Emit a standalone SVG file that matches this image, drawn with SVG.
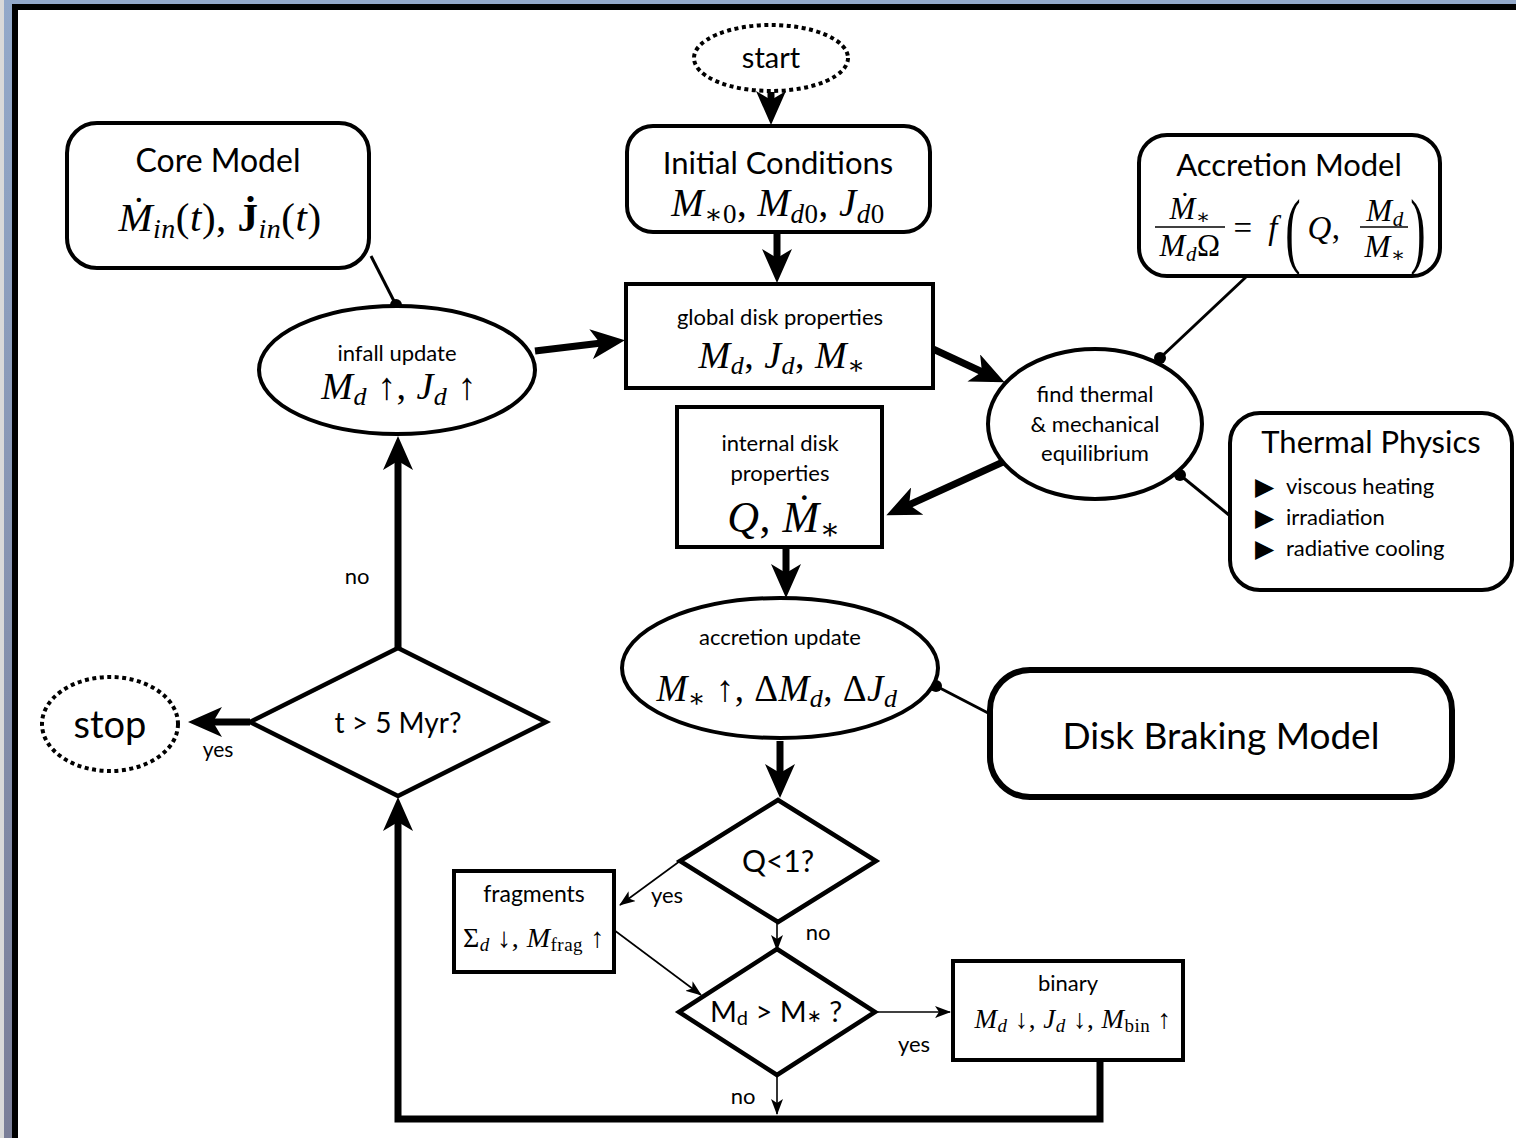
<svg xmlns="http://www.w3.org/2000/svg" width="1516" height="1138" viewBox="0 0 1516 1138">
  <defs>
    <linearGradient id="edge" x1="0" y1="0" x2="0" y2="1">
      <stop offset="0" stop-color="#93a9ca"/>
      <stop offset="1" stop-color="#7a7e98"/>
    </linearGradient>
    <marker id="big" markerUnits="userSpaceOnUse" markerWidth="34" markerHeight="30" viewBox="0 0 34 30" refX="19" refY="15" orient="auto">
      <path d="M0,0 L34,15 L0,30 L9,15 z" fill="#000"/>
    </marker>
    <marker id="small" markerUnits="userSpaceOnUse" markerWidth="16" markerHeight="12" viewBox="0 0 16 12" refX="15" refY="6" orient="auto">
      <path d="M0,0 L16,6 L0,12 L4,6 z" fill="#000"/>
    </marker>
    <style>
      .box { fill: #fff; stroke: #000; stroke-width: 4; }
      .dia { fill: #fff; stroke: #000; stroke-width: 4.5; }
      .dot { fill: #fff; stroke: #000; stroke-width: 4; stroke-dasharray: 4 3.5; }
      .t { font-family: Lato, "Open Sans", "DejaVu Sans", sans-serif; fill: #000; text-anchor: middle; }
      .m { font-family: "Liberation Serif", "DejaVu Serif", serif; fill: #000; text-anchor: middle; letter-spacing: 0.5px; }
      .i { font-style: italic; }
      .thick { fill: none; stroke: #000; stroke-width: 7; marker-end: url(#big); }
      .thin { fill: none; stroke: #000; stroke-width: 1.6; marker-end: url(#small); }
      .link { fill: none; stroke: #000; stroke-width: 3; }
      .pin { fill: #000; }
      .bar { stroke: #000; stroke-width: 1.6; }
    </style>
  </defs>

  <!-- window frame -->
  <rect x="0" y="0" width="1516" height="1138" fill="#fff"/>
  <rect x="0" y="0" width="5" height="1138" fill="#d9d9d9"/>
  <rect x="4" y="0" width="9" height="1138" fill="url(#edge)"/>
  <rect x="4" y="0" width="1512" height="4" fill="#93a9ca"/>
  <rect x="12" y="4" width="1504" height="6" fill="#000"/>
  <rect x="12" y="4" width="6" height="1134" fill="#000"/>

  <!-- connectors -->
  <g id="connectors">
    <line class="thick" x1="771" y1="92" x2="771" y2="110"/>
    <line class="thick" x1="777" y1="233" x2="777" y2="268"/>
    <line class="thick" x1="535" y1="351" x2="610" y2="342"/>
    <line class="thick" x1="933" y1="349" x2="991" y2="376"/>
    <line class="thick" x1="1003" y1="462" x2="900" y2="509"/>
    <line class="thick" x1="786" y1="548" x2="786" y2="583"/>
    <line class="thick" x1="780" y1="741" x2="780" y2="783"/>
    <line class="thick" x1="398" y1="648" x2="398" y2="451"/>
    <line class="thick" x1="250" y1="722" x2="203" y2="722"/>
    <path class="thick" d="M1100,1060 V1119 H398 V812"/>

    <line class="thin" x1="680" y1="861" x2="620" y2="905"/>
    <line class="thin" x1="777" y1="923" x2="777" y2="950"/>
    <line class="thin" x1="614" y1="930" x2="701" y2="995"/>
    <line class="thin" x1="875" y1="1012" x2="950" y2="1012"/>
    <line class="thin" x1="777" y1="1075" x2="777" y2="1114"/>

    <line class="link" x1="371" y1="256" x2="396" y2="305"/>
    <circle class="pin" cx="396" cy="305" r="6"/>
    <line class="link" x1="1246" y1="277" x2="1160" y2="358"/>
    <circle class="pin" cx="1160" cy="358" r="6"/>
    <line class="link" x1="1229" y1="515" x2="1180" y2="475"/>
    <circle class="pin" cx="1180" cy="475" r="6"/>
    <line class="link" x1="936" y1="686" x2="990" y2="714"/>
    <circle class="pin" cx="936" cy="686" r="6"/>

    <text class="t" x="667" y="903" font-size="22">yes</text>
    <text class="t" x="818" y="940" font-size="22">no</text>
    <text class="t" x="357" y="584" font-size="22">no</text>
    <text class="t" x="218" y="757" font-size="21">yes</text>
    <text class="t" x="914" y="1052" font-size="22">yes</text>
    <text class="t" x="743" y="1104" font-size="22">no</text>
  </g>

  <!-- start -->
  <g id="start">
    <ellipse class="dot" cx="771" cy="58" rx="77" ry="33"/>
    <text class="t" x="771" y="68" font-size="29">start</text>
  </g>

  <!-- initial conditions -->
  <g id="initial">
    <rect class="box" x="627" y="126" width="303" height="106" rx="26"/>
    <text class="t" x="778" y="174" font-size="31">Initial Conditions</text>
    <text class="m" x="778" y="216" font-size="39"><tspan class="i">M</tspan><tspan font-size="27" dy="7">∗0</tspan><tspan dy="-7">, </tspan><tspan class="i">M</tspan><tspan font-size="27" dy="7"><tspan class="i">d</tspan>0</tspan><tspan dy="-7">, </tspan><tspan class="i">J</tspan><tspan font-size="27" dy="7"><tspan class="i">d</tspan>0</tspan></text>
  </g>

  <!-- core model -->
  <g id="core">
    <rect class="box" x="67" y="123" width="302" height="145" rx="30"/>
    <text class="t" x="218" y="172" font-size="32">Core Model</text>
    <text class="m" x="220" y="231" font-size="41"><tspan class="i">Ṁ</tspan><tspan class="i" font-size="28" dy="7">in</tspan><tspan dy="-7">(</tspan><tspan class="i">t</tspan>), <tspan font-weight="bold">J̇</tspan><tspan class="i" font-size="28" dy="7">in</tspan><tspan dy="-7">(</tspan><tspan class="i">t</tspan>)</text>
  </g>

  <!-- global disk properties -->
  <g id="global">
    <rect class="box" x="626" y="284" width="307" height="104"/>
    <text class="t" x="780" y="325" font-size="22">global disk properties</text>
    <text class="m" x="782" y="368" font-size="38"><tspan class="i">M</tspan><tspan class="i" font-size="26" dy="6">d</tspan><tspan dy="-6">, </tspan><tspan class="i">J</tspan><tspan class="i" font-size="26" dy="6">d</tspan><tspan dy="-6">, </tspan><tspan class="i">M</tspan><tspan font-size="26" dy="6">∗</tspan></text>
  </g>

  <!-- infall update -->
  <g id="infall">
    <ellipse class="box" cx="397" cy="370" rx="138" ry="64"/>
    <text class="t" x="397" y="361" font-size="22">infall update</text>
    <text class="m" x="399" y="399" font-size="38"><tspan class="i">M</tspan><tspan class="i" font-size="26" dy="6">d</tspan><tspan dy="-6"> ↑, </tspan><tspan class="i">J</tspan><tspan class="i" font-size="26" dy="6">d</tspan><tspan dy="-6"> ↑</tspan></text>
  </g>

  <!-- accretion model -->
  <g id="accretion-model">
    <rect class="box" x="1139" y="135" width="301" height="141" rx="28"/>
    <text class="t" x="1289" y="176" font-size="31">Accretion Model</text>
    <text class="m" x="1190" y="219" font-size="31"><tspan class="i">Ṁ</tspan><tspan font-size="21" dy="5">∗</tspan></text>
    <line class="bar" x1="1155" y1="227" x2="1225" y2="227"/>
    <text class="m" x="1190" y="256" font-size="31"><tspan class="i">M</tspan><tspan class="i" font-size="21" dy="5">d</tspan><tspan dy="-5">Ω</tspan></text>
    <text class="m" x="1243" y="239" font-size="33">=</text>
    <text class="m i" x="1273" y="239" font-size="33">f</text>
    <text class="m" x="0" y="0" font-size="84" transform="translate(1293,258) scale(0.55,1)">(</text>
    <text class="m" x="1324" y="239" font-size="33"><tspan class="i">Q</tspan>,</text>
    <text class="m" x="1385" y="221" font-size="31"><tspan class="i">M</tspan><tspan class="i" font-size="21" dy="5">d</tspan></text>
    <line class="bar" x1="1360" y1="227" x2="1408" y2="227"/>
    <text class="m" x="1385" y="257" font-size="31"><tspan class="i">M</tspan><tspan font-size="21" dy="5">∗</tspan></text>
    <text class="m" x="0" y="0" font-size="84" transform="translate(1418,258) scale(0.55,1)">)</text>
  </g>

  <!-- find thermal & mechanical equilibrium -->
  <g id="equilibrium">
    <ellipse class="box" cx="1095" cy="424" rx="107" ry="75"/>
    <text class="t" x="1095" y="402" font-size="22">find thermal</text>
    <text class="t" x="1095" y="432" font-size="22">&amp; mechanical</text>
    <text class="t" x="1095" y="461" font-size="22">equilibrium</text>
  </g>

  <!-- thermal physics -->
  <g id="thermal-physics">
    <rect class="box" x="1230" y="413" width="282" height="177" rx="30"/>
    <text class="t" x="1371" y="453" font-size="31">Thermal Physics</text>
    <g class="t" font-size="22" style="text-anchor:start">
      <text x="1286" y="494">viscous heating</text>
      <text x="1286" y="525">irradiation</text>
      <text x="1286" y="556">radiative cooling</text>
    </g>
    <g class="t" font-size="25" style="text-anchor:start">
      <text x="1255" y="495">▶</text>
      <text x="1255" y="526">▶</text>
      <text x="1255" y="557">▶</text>
    </g>
  </g>

  <!-- internal disk properties -->
  <g id="internal">
    <rect class="box" x="677" y="407" width="205" height="140"/>
    <text class="t" x="780" y="451" font-size="22">internal disk</text>
    <text class="t" x="780" y="481" font-size="22">properties</text>
    <text class="m" x="784" y="532" font-size="44"><tspan class="i">Q</tspan>, <tspan class="i">Ṁ</tspan><tspan font-size="30" dy="7">∗</tspan></text>
  </g>

  <!-- accretion update -->
  <g id="accretion-update">
    <ellipse class="box" cx="780" cy="668" rx="158" ry="70"/>
    <text class="t" x="780" y="645" font-size="22">accretion update</text>
    <text class="m" x="777" y="701" font-size="37"><tspan class="i">M</tspan><tspan font-size="26" dy="6">∗</tspan><tspan dy="-6"> ↑, Δ</tspan><tspan class="i">M</tspan><tspan class="i" font-size="26" dy="6">d</tspan><tspan dy="-6">, Δ</tspan><tspan class="i">J</tspan><tspan class="i" font-size="26" dy="6">d</tspan></text>
  </g>

  <!-- disk braking model -->
  <g id="disk-braking">
    <rect x="990" y="670" width="462" height="127" rx="40" fill="#fff" stroke="#000" stroke-width="6"/>
    <text class="t" x="1221" y="749" font-size="37">Disk Braking Model</text>
  </g>

  <!-- Q < 1 decision -->
  <g id="q-test">
    <polygon class="dia" points="778,800 876,861 778,922 680,861"/>
    <text class="t" x="778" y="872" font-size="30">Q&lt;1?</text>
  </g>

  <!-- fragments -->
  <g id="fragments">
    <rect class="box" x="454" y="871" width="160" height="101"/>
    <text class="t" x="534" y="902" font-size="23">fragments</text>
    <text class="m" x="534" y="947" font-size="28">Σ<tspan class="i" font-size="19" dy="4">d</tspan><tspan dy="-4"> ↓, </tspan><tspan class="i">M</tspan><tspan font-size="19" dy="4">frag</tspan><tspan dy="-4"> ↑</tspan></text>
  </g>

  <!-- disk mass test -->
  <g id="mass-test">
    <polygon class="dia" points="777,949 875,1012 777,1075 679,1012"/>
    <text class="t" x="776" y="1022" font-size="29">M<tspan font-size="20" dy="3">d</tspan><tspan dy="-3"> &gt; M</tspan><tspan font-size="18">∗</tspan> ?</text>
  </g>

  <!-- binary -->
  <g id="binary">
    <rect class="box" x="953" y="961" width="230" height="99"/>
    <text class="t" x="1068" y="991" font-size="22">binary</text>
    <text class="m" x="1073" y="1028" font-size="27"><tspan class="i">M</tspan><tspan class="i" font-size="19" dy="4">d</tspan><tspan dy="-4"> ↓, </tspan><tspan class="i">J</tspan><tspan class="i" font-size="19" dy="4">d</tspan><tspan dy="-4"> ↓, </tspan><tspan class="i">M</tspan><tspan font-size="19" dy="4">bin</tspan><tspan dy="-4"> ↑</tspan></text>
  </g>

  <!-- time test -->
  <g id="time-test">
    <polygon class="dia" points="398,648 546,722 398,796 250,722"/>
    <text class="t" x="398" y="733" font-size="28">t &gt; 5 Myr?</text>
  </g>

  <!-- stop -->
  <g id="stop">
    <ellipse class="dot" cx="110" cy="724" rx="68" ry="47"/>
    <text class="t" x="110" y="738" font-size="38">stop</text>
  </g>
</svg>
